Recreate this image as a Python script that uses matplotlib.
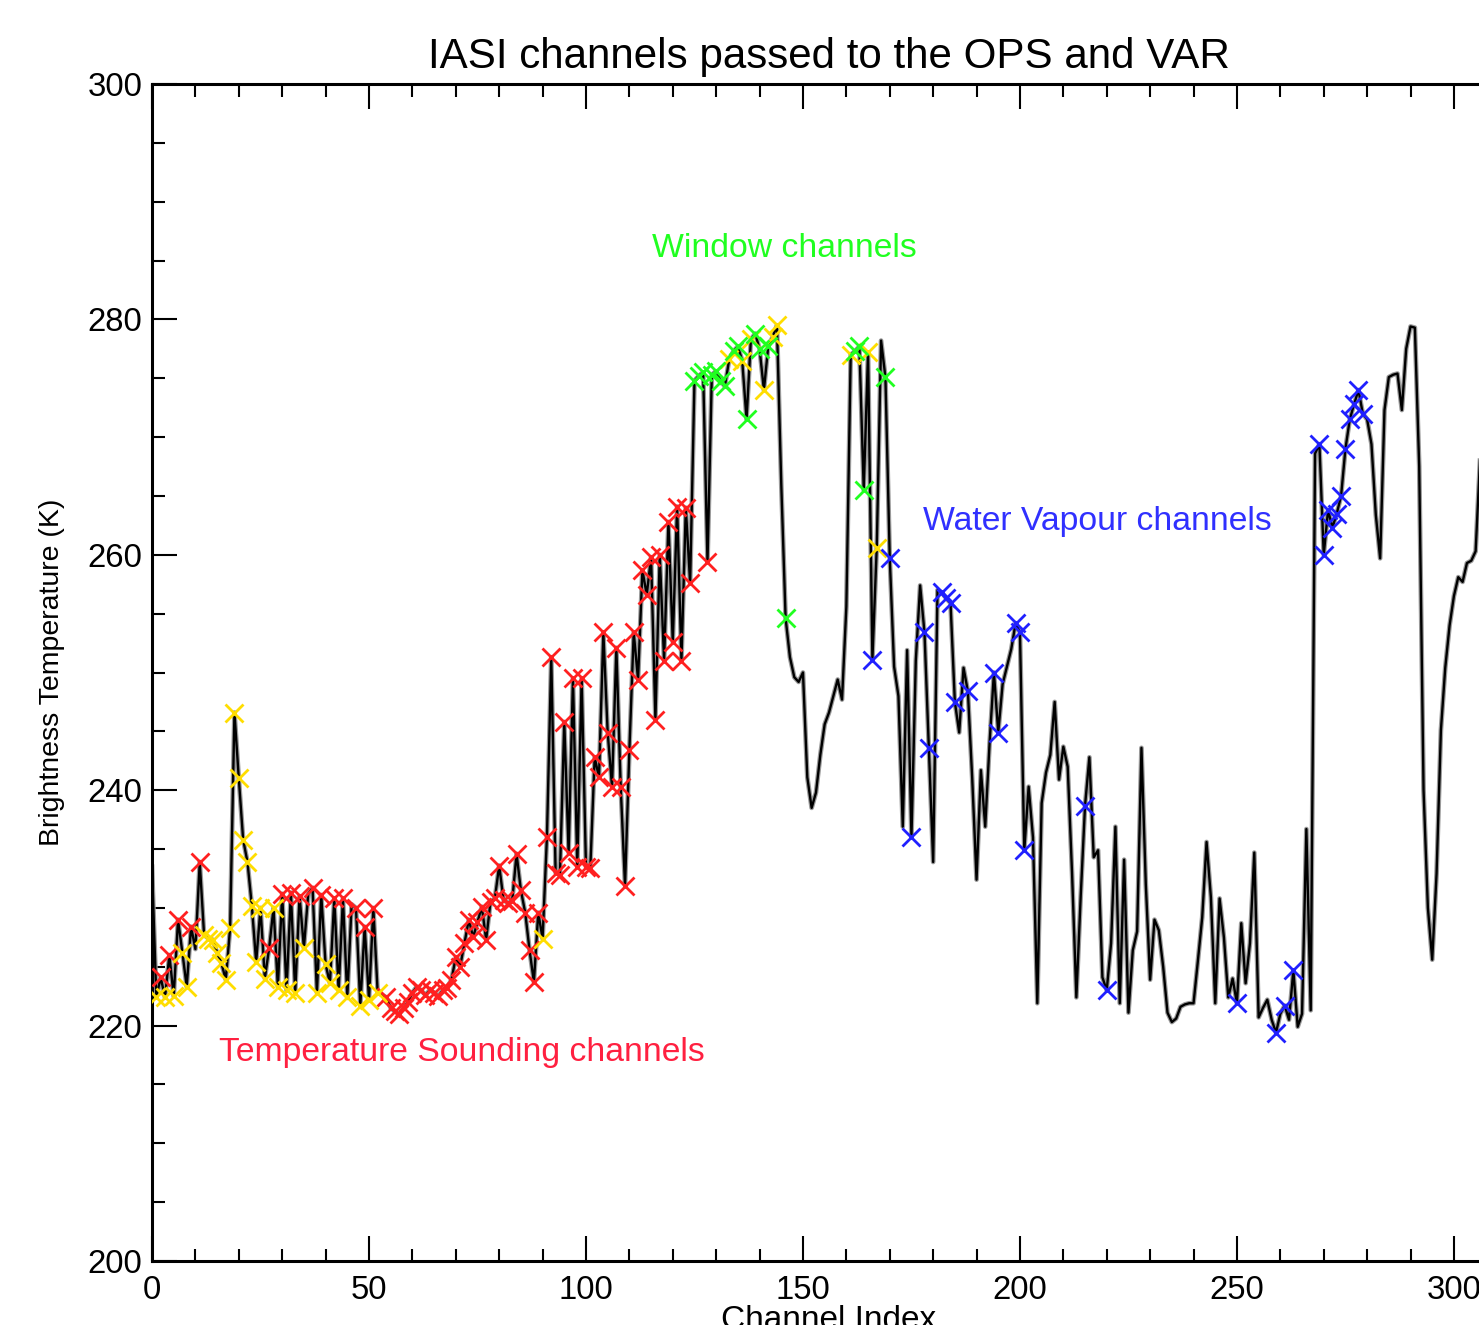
import numpy as np
import matplotlib
matplotlib.use('Agg')
import matplotlib.pyplot as plt
from matplotlib.ticker import MultipleLocator

plt.rcParams['font.family'] = ['Liberation Sans', 'DejaVu Sans']

# brightness temperature for each channel index 0..306
tb = [233.5, 222.4, 224.1, 222.4, 226.0, 222.5, 229.0, 226.2, 223.3, 228.4,
      226.5, 233.9, 227.7, 227.4, 227.3, 226.2, 225.3, 223.9, 228.3, 246.6,
      241.0, 235.8, 233.9, 230.2, 225.4, 230.0, 224.0, 226.6, 230.0, 223.3,
      231.2, 223.0, 231.3, 222.8, 231.0, 226.6, 231.2, 231.7, 222.8, 231.1,
      225.2, 223.6, 230.8, 223.0, 230.8, 222.4, 230.3, 230.0, 221.7, 228.4,
      222.2, 230.0, 222.8, 222.6, 222.4, 221.5, 221.2, 221.0, 221.5, 222.0,
      222.8, 223.3, 223.0, 222.6, 223.0, 222.8, 222.5, 223.0, 223.2, 223.9,
      225.8, 225.0, 227.0, 229.0, 227.5, 228.8, 230.1, 227.3, 230.5, 230.8,
      233.6, 230.7, 230.4, 230.6, 234.6, 231.5, 229.6, 226.4, 223.7, 229.6,
      227.4, 236.0, 251.3, 233.0, 232.8, 245.8, 234.7, 249.5, 233.5, 249.5,
      233.5, 233.4, 242.8, 241.1, 253.4, 244.9, 240.3, 252.1, 240.3, 231.9,
      243.4, 253.4, 249.4, 258.7, 256.6, 259.8, 246.0, 260.0, 251.0, 262.8,
      252.6, 264.1, 251.0, 264.0, 257.6, 274.8, 275.2, 275.5, 259.4, 275.3,
      275.6, 274.8, 274.3, 276.6, 277.3, 277.7, 276.5, 271.5, 278.3, 278.8,
      277.5, 274.0, 277.7, 278.5, 279.5, 266.0, 254.6, 251.3, 249.6, 249.2,
      250.0, 241.1, 238.5, 239.8, 243.0, 245.6, 246.6, 248.0, 249.4, 247.7,
      255.6, 277.0, 277.3, 277.7, 265.5, 277.2, 251.1, 260.6, 278.2, 275.1,
      259.7, 250.5, 248.0, 236.9, 251.9, 236.0, 251.0, 257.4, 253.4, 243.6,
      233.9, 257.0, 256.8, 256.3, 255.9, 247.5, 244.9, 250.4, 248.4, 241.0,
      232.4, 241.7, 236.9, 244.0, 250.0, 244.9, 249.0, 250.5, 252.0, 254.2,
      253.4, 234.9, 240.3, 236.0, 221.9, 238.9, 241.5, 243.0, 247.5, 240.9,
      243.7, 242.0, 233.0, 222.4, 231.0, 238.7, 242.8, 234.3, 234.9, 224.1,
      223.0, 227.0, 236.9, 221.9, 234.1, 221.1, 226.4, 228.0, 243.6, 232.0,
      223.9, 229.0, 228.1, 225.0, 221.1, 220.3, 220.6, 221.6, 221.8, 221.9,
      221.9, 225.5, 229.2, 235.6, 230.9, 221.9, 230.8, 227.5, 222.4, 224.0,
      221.9, 228.7, 223.6, 227.0, 234.7, 220.7, 221.5, 222.2, 220.5, 219.4,
      221.0, 221.7, 220.5, 224.7, 219.9, 221.0, 236.7, 221.3, 268.6, 269.4,
      260.0, 263.8, 262.3, 263.5, 265.0, 269.0, 271.5, 272.8, 274.0, 272.0,
      271.5, 269.4, 263.4, 259.7, 272.3, 275.1, 275.3, 275.4, 272.3, 277.5,
      279.4, 279.3, 267.5, 240.0, 230.0, 225.6, 232.9, 245.1, 250.4, 254.0,
      256.5, 258.1, 257.7, 259.3, 259.5, 260.3, 268.0]

# channels passed on, by group
temp_ch = ([2, 4, 6, 9, 11, 27, 30, 32, 34, 37, 39, 42, 44, 47, 49, 51]
           + list(range(54, 90)) + list(range(91, 125)) + [128])
other_ch = ([1, 3, 5, 7, 8] + list(range(12, 27)) + [28, 29, 31, 33, 35, 38, 40, 41,
            43, 45, 48, 50, 52, 90, 133, 136, 138, 141, 143, 144, 161, 165, 167])
window_ch = [125, 126, 127, 129, 130, 131, 132, 134, 135, 137, 139, 140, 142,
             146, 162, 163, 164, 169]
wv_ch = ([166, 170, 175, 178, 179, 182, 183, 184, 185, 188, 194, 195, 199, 200,
          201, 215, 220, 250, 259, 261, 263] + list(range(269, 280)))

tb = np.array(tb)
chan = np.arange(len(tb))

fig = plt.figure(figsize=(14.79, 13.25), dpi=100)
ax = fig.add_axes([152/1479, 64/1325, 1354/1479, 1177/1325])

ax.plot(chan, tb, color='#9a9a9a', lw=3.4, zorder=2)
ax.plot(chan, tb, color='black', lw=1.7, zorder=3)

mk = dict(marker='x', ls='none', ms=13, mew=2.0, zorder=4)
ax.plot(temp_ch, tb[temp_ch], color='#ff2020', **mk)
ax.plot(other_ch, tb[other_ch], color='#ffdd00', **mk)
ax.plot(window_ch, tb[window_ch], color='#20ff20', **mk)
ax.plot(wv_ch, tb[wv_ch], color='#2020ff', **mk)

ax.text(115.2, 286.0, 'Window channels', color='#20ff20', fontsize=24.3,
        ha='left', va='center')
ax.text(177.6, 262.8, 'Water Vapour channels', color='#3030ff', fontsize=24.3,
        ha='left', va='center')
ax.text(15.4, 217.7, 'Temperature Sounding channels', color='#ff2040', fontsize=24.3,
        ha='left', va='center')

ax.set_xlim(0, 312)
ax.set_ylim(200, 300)
ax.xaxis.set_major_locator(MultipleLocator(50))
ax.xaxis.set_minor_locator(MultipleLocator(10))
ax.yaxis.set_major_locator(MultipleLocator(20))
ax.yaxis.set_minor_locator(MultipleLocator(5))
ax.tick_params(which='both', direction='in', top=True, right=False, width=1.5,
               labelsize=23.7)
ax.tick_params(which='major', length=18)
ax.tick_params(which='minor', length=9)
ax.tick_params(axis='x', pad=10)
ax.tick_params(axis='y', pad=7)
for s in ax.spines.values():
    s.set_linewidth(2.2)

ax.text(0.5, 1.023, 'IASI channels passed to the OPS and VAR', fontsize=30.3,
        ha='center', va='center', transform=ax.transAxes)
ax.set_xlabel('Channel Index', fontsize=24)
ax.xaxis.set_label_coords(0.5, -0.037)
ax.set_ylabel('Brightness Temperature (K)', fontsize=20.5)
ax.yaxis.set_label_coords(-0.064, 0.5)

fig.savefig('out.png', dpi=100)
